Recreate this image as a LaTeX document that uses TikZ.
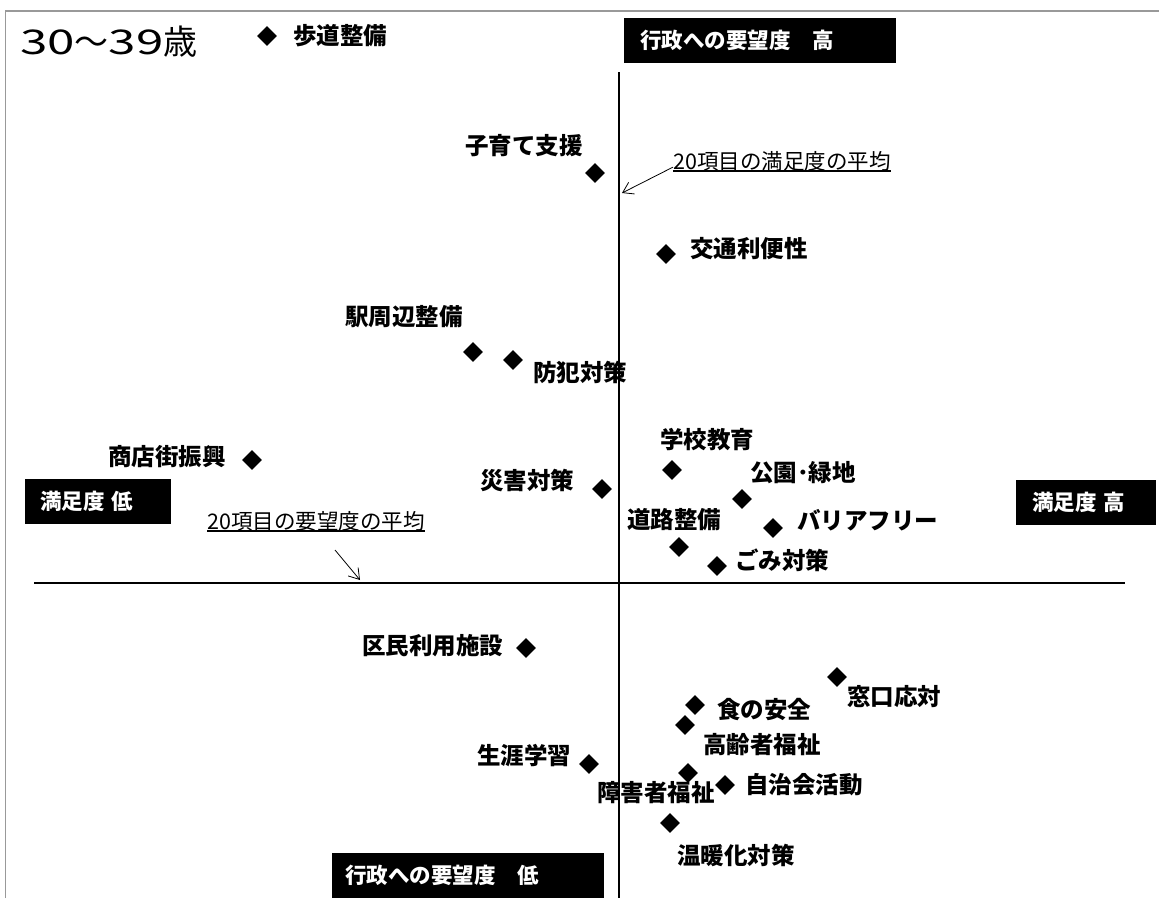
\documentclass[tikz,border=0pt]{standalone}
\usepackage{fontspec}
\setmainfont{Noto Sans CJK JP}
\usetikzlibrary{shapes.geometric}
\usetikzlibrary{arrows.meta}

\begin{document}
\begin{tikzpicture}[x = 1pt, y = -1pt,
  itemdot/.style = {diamond, fill = black, inner sep = 0pt, minimum size = 20pt},
  itemlabel/.style = {anchor = west, inner sep = 0pt,
    font = \bfseries\fontsize{23.5}{24}\selectfont},
  headbox/.style = {anchor = west, fill = black, text = white, align = left,
    minimum height = 45pt, font = \bfseries\fontsize{21.5}{22}\selectfont},
  avgnote/.style = {anchor = west, inner sep = 0pt, font = \fontsize{21.5}{22}\selectfont},
  avgarrow/.style = {-{Straight Barb[length = 10pt, width = 13pt]}, line width = .8pt}]
  \useasboundingbox (0, 0) rectangle (1159, 898);

  % frame and axes
  \draw[gray!80, line width = 1.5pt] (5.5, 898) -- (5.5, 11) -- (1159, 11);
  \draw[line width = 1.2pt] (619, 72) -- (619, 898);
  \draw[line width = 1.2pt] (34, 583) -- (1125, 583);

  \node[anchor = west, inner sep = 0pt, font = \fontsize{34}{36}\selectfont] (title)
  at (20, 42) {\scalebox{1.45}[1]{30}～\scalebox{1.45}[1]{39}歳};

  \node[headbox, inner xsep = 16pt, text width = 240pt] (demhigh) at (624, 40.5)
  {行政への要望度　高};
  \node[headbox, inner xsep = 13pt, text width = 246pt] (demlow) at (332, 875)
  {行政への要望度　低};
  \node[headbox, inner xsep = 15pt, text width = 116pt] (satlow) at (25, 501.5)
  {満足度 低};
  \node[headbox, inner xsep = 16pt, text width = 108pt] (sathigh) at (1016, 502)
  {満足度 高};

  % items
  \node[itemdot] (d-hodo) at (267, 36) {};
  \node[itemlabel] (t-hodo) at (293, 36) {歩道整備};
  \node[itemdot] (d-kosodate) at (595, 173) {};
  \node[itemlabel] (t-kosodate) at (465, 146) {子育て支援};
  \node[itemdot] (d-kotsu) at (666, 254) {};
  \node[itemlabel] (t-kotsu) at (690, 249) {交通利便性};
  \node[itemdot] (d-eki) at (473, 352) {};
  \node[itemlabel] (t-eki) at (345, 317) {駅周辺整備};
  \node[itemdot] (d-bohan) at (513, 360) {};
  \node[itemlabel] (t-bohan) at (533, 372) {防犯対策};
  \node[itemdot] (d-shoten) at (252, 460) {};
  \node[itemlabel] (t-shoten) at (108, 457) {商店街振興};
  \node[itemdot] (d-gakko) at (672, 470) {};
  \node[itemlabel] (t-gakko) at (660, 440) {学校教育};
  \node[itemdot] (d-koen) at (742, 499) {};
  \node[itemlabel] (t-koen) at (750, 473) {公園･緑地};
  \node[itemdot] (d-saigai) at (602, 489) {};
  \node[itemlabel] (t-saigai) at (480, 481) {災害対策};
  \node[itemdot] (d-baria) at (773, 528) {};
  \node[itemlabel] (t-baria) at (797, 520) {バリアフリー};
  \node[itemdot] (d-doro) at (679, 547) {};
  \node[itemlabel] (t-doro) at (627, 520) {道路整備};
  \node[itemdot] (d-gomi) at (717, 566) {};
  \node[itemlabel] (t-gomi) at (735, 560) {ごみ対策};
  \node[itemdot] (d-kumin) at (526, 648) {};
  \node[itemlabel] (t-kumin) at (362, 646) {区民利用施設};
  \node[itemdot] (d-madoguchi) at (837, 677) {};
  \node[itemlabel] (t-madoguchi) at (847, 697) {窓口応対};
  \node[itemdot] (d-shoku) at (695, 705) {};
  \node[itemlabel] (t-shoku) at (717, 710) {食の安全};
  \node[itemdot] (d-koreisha) at (685, 725) {};
  \node[itemlabel] (t-koreisha) at (703, 745) {高齢者福祉};
  \node[itemdot] (d-shogai) at (589, 764) {};
  \node[itemlabel] (t-shogai) at (477, 756) {生涯学習};
  \node[itemdot] (d-shogaisha) at (688, 773) {};
  \node[itemlabel] (t-shogaisha) at (597, 793) {障害者福祉};
  \node[itemdot] (d-jichikai) at (725, 785) {};
  \node[itemlabel] (t-jichikai) at (745, 785) {自治会活動};
  \node[itemdot] (d-ondanka) at (670, 823) {};
  \node[itemlabel] (t-ondanka) at (677, 855) {温暖化対策};

  % averages
  \node[avgnote] (satnote) at (673, 161) {20項目の満足度の平均};
  \draw[line width = 1.3pt] (satnote.south west) -- (satnote.south east);
  \coordinate (satavg) at (622, 193);
  \draw[avgarrow] ([yshift = 4pt]satnote.south west) -- (satavg);

  \node[avgnote] (demnote) at (207, 521) {20項目の要望度の平均};
  \draw[line width = 1.3pt] (demnote.south west) -- (demnote.south east);
  \coordinate (demfrom) at (335, 550);
  \coordinate (demavg) at (360, 580);
  \draw[avgarrow] (demfrom) -- (demavg);
\end{tikzpicture}
\end{document}
